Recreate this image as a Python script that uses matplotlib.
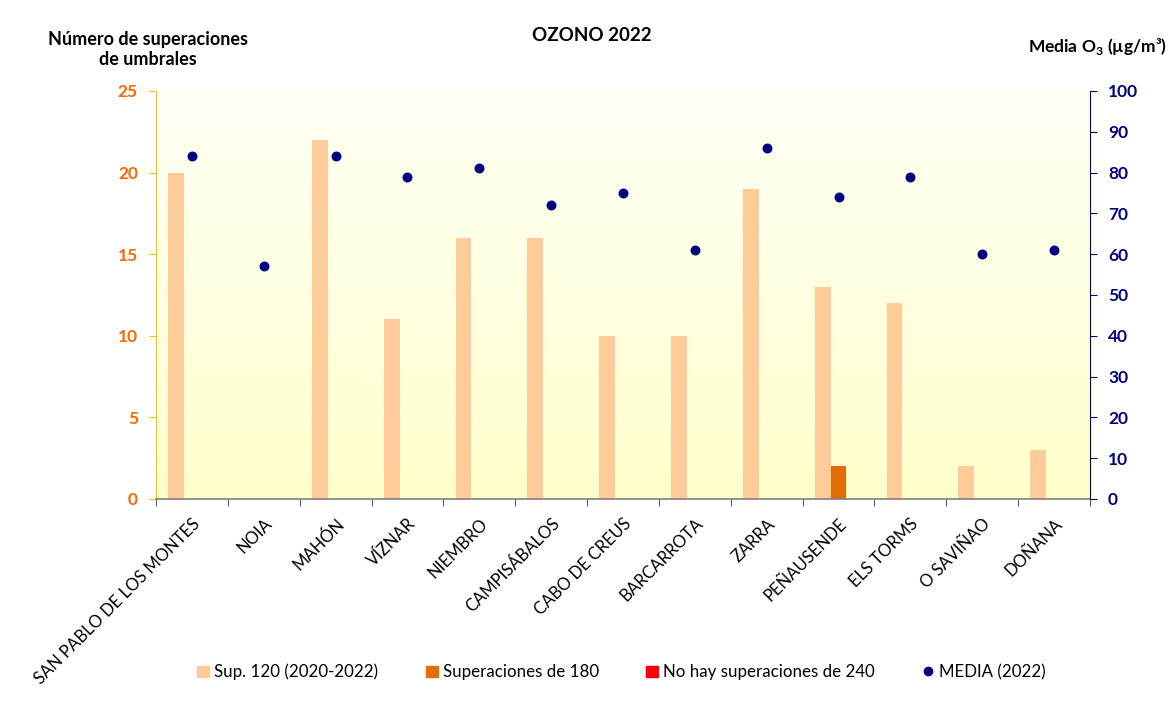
import numpy as np
import matplotlib
matplotlib.use("Agg")
import matplotlib.pyplot as plt
from matplotlib.colors import LinearSegmentedColormap
from matplotlib.lines import Line2D
from matplotlib.patches import Patch

plt.rcParams['font.family'] = ['Lato', 'DejaVu Sans']
plt.rcParams['mathtext.fontset'] = 'custom'
plt.rcParams['mathtext.rm'] = 'Lato'
plt.rcParams['mathtext.bf'] = 'Lato:bold'

stations = ["SAN PABLO DE LOS MONTES", "NOIA", "MAHÓN", "VÍZNAR", "NIEMBRO",
            "CAMPISÁBALOS", "CABO DE CREUS", "BARCARROTA", "ZARRA", "PEÑAUSENDE",
            "ELS TORMS", "O SAVIÑAO", "DOÑANA"]
sup120 = [20, 0, 22, 11, 16, 16, 10, 10, 19, 13, 12, 2, 3]
sup180 = [0, 0, 0, 0, 0, 0, 0, 0, 0, 2, 0, 0, 0]
sup240 = [0, 0, 0, 0, 0, 0, 0, 0, 0, 0, 0, 0, 0]
media = [84, 57, 84, 79, 81, 72, 75, 61, 86, 74, 79, 60, 61]
left_ticks = [0, 5, 10, 15, 20, 25]
right_ticks = [0, 10, 20, 30, 40, 50, 60, 70, 80, 90, 100]

c120 = "#FFCC99"
c180 = "#E36C09"
c240 = "#FF0000"
cmed = "#000080"
corange = "#FF6600"

fig = plt.figure(figsize=(11.71, 7.09), dpi=100)
ax = fig.add_axes([0.1332, 0.2962, 0.7976, 0.5755])
ax2 = ax.twinx()

x = np.arange(len(stations))
w = 0.22
ax.set_xlim(-0.5, len(stations) - 0.5)
ax.set_ylim(0, 25)

# gradient background
cmap = LinearSegmentedColormap.from_list("g", ["#FFFFCC", "#FFFFF6"])
grad = np.linspace(0, 1, 256).reshape(-1, 1)
ax.imshow(grad, extent=[-0.5, len(stations) - 0.5, 0, 25], origin="lower",
          aspect="auto", cmap=cmap, zorder=0)

ax.bar(x - w, sup120, width=w, color=c120, zorder=2)
ax.bar(x, sup180, width=w, color=c180, zorder=2)
ax.bar(x + w, sup240, width=w, color=c240, zorder=2)

ax2.set_ylim(0, 100)
ax2.scatter(x, media, s=38, color=cmed, zorder=3)

ax.set_yticks(left_ticks)
ax.set_yticklabels([str(t) for t in left_ticks], color=corange,
                   fontweight="bold", fontsize=12.5)
ax2.set_yticks(right_ticks)
ax2.set_yticklabels([str(t) for t in right_ticks], color=cmed,
                    fontweight="bold", fontsize=12.5)

ax.set_xticks(np.arange(-0.5, len(stations) + 0.5, 1))
ax.set_xticklabels([])
ax.set_xticks(x, minor=True)
ax.set_xticklabels(stations, minor=True, rotation=45, ha="right",
                   rotation_mode="anchor", fontsize=12)
ax.tick_params(axis="x", which="minor", length=0, pad=12)
ax.tick_params(axis="x", which="major", length=5, color="#595959", direction="out")
ax.tick_params(axis="y", length=5, color="#FFC000", direction="out", pad=8)
ax2.tick_params(axis="y", length=5, color=cmed, direction="out", pad=8)

ax.spines["top"].set_visible(False)
ax2.spines["top"].set_visible(False)
ax.spines["right"].set_visible(False)
ax2.spines["left"].set_visible(False)
ax2.spines["bottom"].set_visible(False)
ax.spines["left"].set_color("#FFC000")
ax2.spines["right"].set_color(cmed)
ax.spines["bottom"].set_color("#808080")
ax.spines["bottom"].set_linewidth(1.2)

fig.text(0.505, 0.95, "OZONO 2022", ha="center", va="center",
         fontweight="bold", fontsize=13.5)
fig.text(0.126, 0.93, "Número de superaciones\nde umbrales", ha="center",
         va="center", fontweight="bold", fontsize=13, linespacing=1.25)
fig.text(0.937, 0.935, r"Media O$_\mathbf{3}$ (µg/m³)", ha="center", va="center",
         fontweight="bold", fontsize=12.5)

handles = [Patch(color=c120), Patch(color=c180), Patch(color=c240),
           Line2D([], [], marker="o", linestyle="none", color=cmed, markersize=6)]
labels = ["Sup. 120 (2020-2022)", "Superaciones de 180",
          "No hay superaciones de 240", "MEDIA (2022)"]
fig.legend(handles, labels, loc="center", bbox_to_anchor=(0.531, 0.052),
           ncol=4, frameon=False, fontsize=12.2, handlelength=0.7,
           handleheight=0.7, handletextpad=0.3, columnspacing=2.8)

fig.savefig("out.png", dpi=100)
